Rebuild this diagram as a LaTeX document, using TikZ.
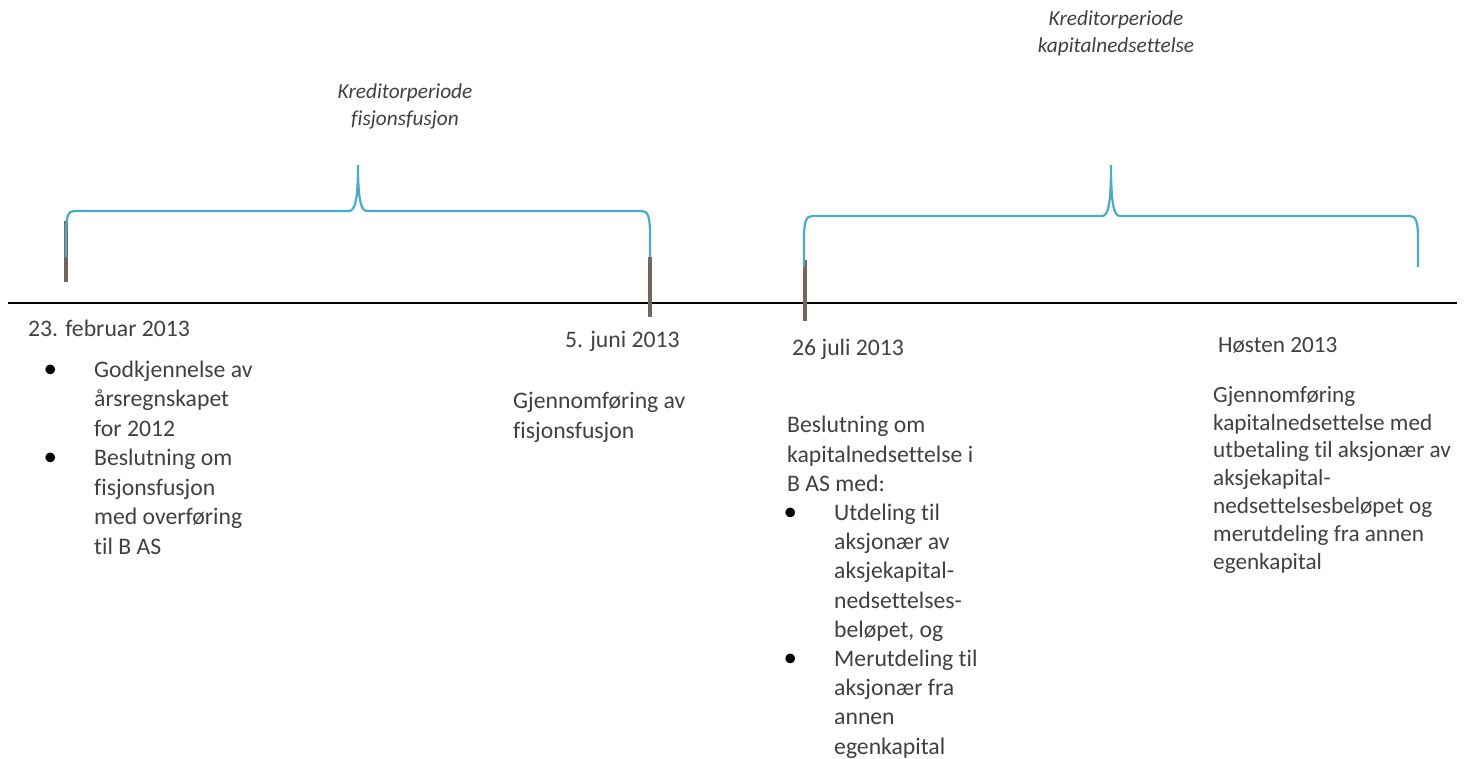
\documentclass[tikz,border=0pt]{standalone}
\usepackage{fontspec}
\setmainfont[Ligatures={NoCommon}]{Carlito}
\usepackage{tikz}
\usetikzlibrary{positioning}
\definecolor{bracecyan}{RGB}{75, 172, 198}
\definecolor{tickbrown}{RGB}{118, 102, 90}
\definecolor{textgrey}{RGB}{64, 64, 64}
\newcommand{\blt}{\makebox[47pt][l]{\hspace{-3.5pt}\textcolor{black}{\fontsize{27}{27}\selectfont\textbullet}}}
\newcommand{\ind}{\hspace*{47pt}}
\tikzset{
  datelbl/.style={anchor=base west, inner sep=0pt, text=textgrey, font=\fontsize{23.7}{29.5}\selectfont},
  bodytxt/.style={anchor=base west, inner sep=0pt, align=left, text=textgrey, font=\fontsize{23.7}{29.5}\selectfont},
  periodlbl/.style={anchor=base, inner sep=0pt, align=center, text=textgrey, font=\fontsize{21.3}{26.5}\selectfont\itshape},
  kredbrace/.style={draw=bracecyan, line width=2.2pt},
  tidsmerke/.style={draw=tickbrown, line width=3.5pt}
}

\begin{document}
\begin{tikzpicture}[x=1pt, y=-1pt]
  \useasboundingbox (0,0) rectangle (1467,758);

  % Timeline
  \coordinate (start) at (8,303);
  \coordinate (end) at (1457,303);
  \draw[line width=2.5pt, black] (start) -- (end);

  % Date ticks
  \draw[tidsmerke] (66,221) -- (66,282);
  \draw[tidsmerke] (650,257) -- (650,317);
  \draw[tidsmerke] (805,260) -- (805,321);

  % Creditor periods
  \draw[kredbrace] (66,257) -- (66,234) .. controls (66,217) and (68,211) .. (74,211)
    -- (349,211) .. controls (355,211) and (358,200) .. (358,165)
    .. controls (358,200) and (361,211) .. (367,211)
    -- (642,211) .. controls (648,211) and (650,217) .. (650,234) -- (650,257);
  \draw[kredbrace] (804,267) -- (804,239) .. controls (804,222) and (806,216) .. (812,216)
    -- (1102,216) .. controls (1108,216) and (1111,205) .. (1111,165)
    .. controls (1111,205) and (1114,216) .. (1120,216)
    -- (1410,216) .. controls (1416,216) and (1418,222) .. (1418,239) -- (1418,267);

  % base = baseline of the last line
  \node[periodlbl] (kredfisjon) at (405,125) {Kreditorperiode\\fisjonsfusjon};
  \node[periodlbl] (kredkapital) at (1116,52) {Kreditorperiode\\kapitalnedsettelse};

  % Events
  \node[datelbl] (dato1) at (28,336) {23. februar 2013};
  \node[bodytxt] (tekst1) at (47,554) {
    \blt Godkjennelse av\\
    \ind årsregnskapet\\
    \ind for 2012\\
    \blt Beslutning om\\
    \ind fisjonsfusjon\\
    \ind med overføring\\
    \ind til B AS
  };

  \node[datelbl] (dato2) at (565,347) {5. juni 2013};
  \node[bodytxt] (tekst2) at (513,438) {Gjennomføring av\\fisjonsfusjon};

  \node[datelbl] (dato3) at (792,355) {26 juli 2013};
  \node[bodytxt, font=\fontsize{23.7}{29.2}\selectfont] (tekst3) at (787,754) {
    Beslutning om\\
    kapitalnedsettelse i\\
    B AS med:\\
    \blt Utdeling til\\
    \ind aksjonær av\\
    \ind aksjekapital-\\
    \ind nedsettelses-\\
    \ind beløpet, og\\
    \blt Merutdeling til\\
    \ind aksjonær fra\\
    \ind annen\\
    \ind egenkapital
  };

  \node[datelbl, font=\fontsize{23.2}{29.5}\selectfont] (dato4) at (1218,352) {Høsten 2013};
  \node[bodytxt, font=\fontsize{23.2}{27.8}\selectfont] (tekst4) at (1213,569) {
    Gjennomføring\\
    kapitalnedsettelse med\\
    utbetaling til aksjonær av\\
    aksjekapital-\\
    nedsettelsesbeløpet og\\
    merutdeling fra annen\\
    egenkapital
  };
\end{tikzpicture}
\end{document}
